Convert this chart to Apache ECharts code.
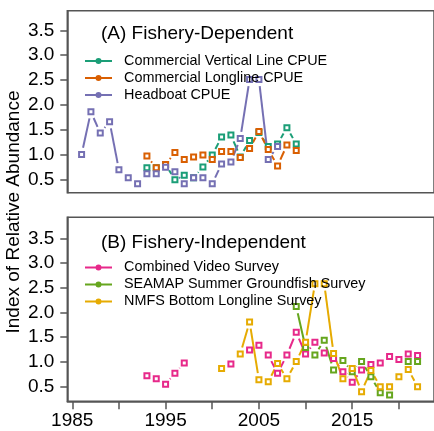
<!DOCTYPE html>
<html>
<head>
<meta charset="utf-8">
<script src="https://cdn.jsdelivr.net/npm/echarts@6/dist/echarts.min.js"></script>
<style>
  html, body { margin: 0; padding: 0; background: #fff; }
  #chart { width: 434px; height: 431px; }
</style>
</head>
<body>
<div id="chart"></div>
<script>
// panel A: fishery-dependent indices
const cvlYears = [1993, 1994, 1995, 1996, 1997, 1998, 1999, 2000, 2001, 2002, 2003, 2004, 2005, 2006, 2007, 2008, 2009]
const cvlCPUE = [0.73, 0.73, 0.80, 0.49, 0.58, 0.53, 0.75, 0.99, 1.35, 1.39, 0.95, 1.28, 1.44, 1.16, 1.21, 1.54, 1.21]
const cllYears = [1993, 1994, 1995, 1996, 1997, 1998, 1999, 2000, 2001, 2002, 2003, 2004, 2005, 2006, 2007, 2008, 2009]
const cllCPUE = [0.97, 0.73, 0.80, 1.04, 0.90, 0.95, 0.99, 0.90, 1.06, 1.06, 0.94, 1.12, 1.46, 1.10, 0.77, 1.19, 1.08]
const hbYears = [1986, 1987, 1988, 1989, 1990, 1991, 1992, 1993, 1994, 1995, 1996, 1997, 1998, 1999, 2000, 2001, 2002, 2003, 2004, 2005, 2006, 2007]
const hbCPUE = [1.00, 1.86, 1.43, 1.66, 0.69, 0.53, 0.41, 0.61, 0.61, 0.74, 0.65, 0.41, 0.53, 0.53, 0.41, 0.81, 0.85, 1.32, 2.51, 2.51, 0.90, 1.16]

// panel B: fishery-independent indices (null = no survey that year)
const videoYears = [1993, 1994, 1995, 1996, 1997, 1998, 1999, 2000, 2001, 2002, 2003, 2004, 2005, 2006, 2007, 2008, 2009, 2010, 2011, 2012, 2013, 2014, 2015, 2016, 2017, 2018, 2019, 2020, 2021, 2022]
const videoIndex = [0.72, 0.66, 0.55, 0.77, 0.98, null, null, null, null, 0.96, null, 1.24, 1.34, 1.14, 0.77, 1.14, 1.60, 1.16, 1.40, 1.18, 1.07, 0.80, 0.59, 0.84, 0.95, 0.98, 1.11, 1.05, 1.16, 1.13]
const seamapYears = [2009, 2010, 2011, 2012, 2013, 2014, 2015, 2016, 2017, 2018, 2019, 2020, 2021, 2022]
const seamapIndex = [2.12, 1.29, 1.14, 1.44, 0.84, 1.03, 0.80, 1.01, 0.70, 0.38, 0.33, null, 1.01, 1.01]
const nmfsYears = [2001, 2002, 2003, 2004, 2005, 2006, 2007, 2008, 2009, 2010, 2011, 2012, 2013, 2014, 2015, 2016, 2017, 2018, 2019, 2020, 2021, 2022]
const nmfsIndex = [0.87, null, 1.16, 1.81, 0.64, 0.60, 0.97, 0.66, 1.01, 1.40, 2.58, 2.58, 1.17, 0.66, 0.87, 0.40, 0.83, 0.50, 0.50, 0.70, 0.85, 0.50]

const yTicks = [0.5, 1.0, 1.5, 2.0, 2.5, 3.0, 3.5]
const xTicks = [1985, 1990, 1995, 2000, 2005, 2010, 2015, 2020]
const xLabels = [1985, 1995, 2005, 2015]

const FONT = 'Liberation Sans, Arial, sans-serif'
const AXIS_COLOR = '#555'
const GAP = 6.8 // R type="b" style gap around points
const legendIcon = 'path://M0,2 L27,2 L27,4 L0,4 Z M13.5,0 A3,3 0 1,1 13.5,6 A3,3 0 1,1 13.5,0 Z'

const segments = (years, vals) => {
  const out = []
  for (let i = 1; i < years.length; i++) {
    if (vals[i - 1] != null && vals[i] != null) out.push([years[i - 1], vals[i - 1], years[i], vals[i]])
  }
  return out
}
const points = (years, vals) => years.map((y, i) => [y, vals[i]]).filter(p => p[1] != null)

const renderSeg = (params, api) => {
  const a = api.coord([api.value(0), api.value(1)])
  const b = api.coord([api.value(2), api.value(3)])
  const dx = b[0] - a[0]
  const dy = b[1] - a[1]
  const len = Math.sqrt(dx * dx + dy * dy)
  if (len <= 2 * GAP) return null
  const ux = dx / len
  const uy = dy / len
  return {
    type: 'line',
    shape: { x1: a[0] + ux * GAP, y1: a[1] + uy * GAP, x2: b[0] - ux * GAP, y2: b[1] - uy * GAP },
    style: { stroke: api.visual('color'), lineWidth: 2 }
  }
}

const makeSeries = (name, color, years, vals, idx) => [
  {
    name,
    type: 'custom',
    xAxisIndex: idx,
    yAxisIndex: idx,
    renderItem: renderSeg,
    encode: { x: [0, 2], y: [1, 3] },
    itemStyle: { color },
    silent: true,
    data: segments(years, vals)
  },
  {
    name,
    type: 'scatter',
    xAxisIndex: idx,
    yAxisIndex: idx,
    symbol: 'rect',
    symbolSize: 5,
    itemStyle: { color: '#fff', borderColor: color, borderWidth: 2, opacity: 1 },
    emphasis: { disabled: true },
    silent: true,
    data: points(years, vals)
  }
]

const xAxisBase = (idx, showLabels) => ({
  type: 'value',
  gridIndex: idx,
  min: 1984.469,
  max: 2023.76,
  splitLine: { show: false },
  axisLine: { show: showLabels, lineStyle: { color: AXIS_COLOR, width: 1.5 } },
  axisTick: { show: showLabels, length: 8, lineStyle: { color: AXIS_COLOR, width: 1.5 }, customValues: xTicks },
  axisLabel: {
    show: showLabels, fontSize: 19, fontFamily: FONT, color: '#000', margin: 10,
    customValues: xLabels,
    formatter: v => String(v)
  }
})

const yAxisBase = (idx, min, max) => ({
  type: 'value',
  gridIndex: idx,
  min,
  max,
  splitLine: { show: false },
  axisLine: { show: true, lineStyle: { color: AXIS_COLOR, width: 1.5 } },
  axisTick: { show: true, length: 7, lineStyle: { color: AXIS_COLOR, width: 1.5 }, customValues: yTicks },
  axisLabel: {
    fontSize: 19, fontFamily: FONT, color: '#000', margin: 13,
    customValues: yTicks,
    formatter: v => v.toFixed(1)
  }
})

const legendItem = (name, color) => ({ name, icon: legendIcon, itemStyle: { color, borderWidth: 0 } })
const legendBase = (top, items) => ({
  orient: 'vertical',
  left: 85,
  top,
  padding: 0,
  itemGap: 0,
  itemWidth: 27,
  itemHeight: 6,
  selectedMode: false,
  textStyle: { fontSize: 14.4, fontFamily: FONT, color: '#000', lineHeight: 17, padding: [0, 0, 0, 7] },
  data: items
})

const chart = echarts.init(document.getElementById('chart'))
chart.setOption({
  animation: false,
  title: [
    { text: '(A) Fishery-Dependent', left: 101, top: 24.5, padding: 0, textStyle: { fontSize: 19, fontWeight: 'normal', fontFamily: FONT, color: '#000' } },
    { text: '(B) Fishery-Independent', left: 101, top: 233, padding: 0, textStyle: { fontSize: 19, fontWeight: 'normal', fontFamily: FONT, color: '#000' } }
  ],
  legend: [
    legendBase(52.5, [
      legendItem('Commercial Vertical Line CPUE', '#1B9E77'),
      legendItem('Commercial Longline CPUE', '#D95F02'),
      legendItem('Headboat CPUE', '#7570B3')
    ]),
    legendBase(259, [
      legendItem('Combined Video Survey', '#E7298A'),
      legendItem('SEAMAP Summer Groundfish Survey', '#66A61E'),
      legendItem('NMFS Bottom Longline Survey', '#E6AB02')
    ])
  ],
  grid: [
    { left: 67.3, top: 10.7, width: 369.7, height: 182, show: true, borderColor: AXIS_COLOR, borderWidth: 1.5, backgroundColor: 'transparent' },
    { left: 67.3, top: 217.3, width: 369.7, height: 184, show: true, borderColor: AXIS_COLOR, borderWidth: 1.5, backgroundColor: 'transparent' }
  ],
  xAxis: [xAxisBase(0, false), xAxisBase(1, true)],
  yAxis: [yAxisBase(0, 0.23, 3.895), yAxisBase(1, 0.205, 3.924)],
  graphic: [
    {
      type: 'text',
      x: 14,
      y: 212,
      rotation: Math.PI / 2,
      style: {
        text: 'Index of Relative Abundance',
        fontSize: 19,
        fontFamily: FONT,
        fill: '#000',
        align: 'center',
        verticalAlign: 'middle'
      }
    }
  ],
  series: [
    ...makeSeries('Commercial Vertical Line CPUE', '#1B9E77', cvlYears, cvlCPUE, 0),
    ...makeSeries('Commercial Longline CPUE', '#D95F02', cllYears, cllCPUE, 0),
    ...makeSeries('Headboat CPUE', '#7570B3', hbYears, hbCPUE, 0),
    ...makeSeries('Combined Video Survey', '#E7298A', videoYears, videoIndex, 1),
    ...makeSeries('SEAMAP Summer Groundfish Survey', '#66A61E', seamapYears, seamapIndex, 1),
    ...makeSeries('NMFS Bottom Longline Survey', '#E6AB02', nmfsYears, nmfsIndex, 1)
  ]
})
</script>
</body>
</html>
